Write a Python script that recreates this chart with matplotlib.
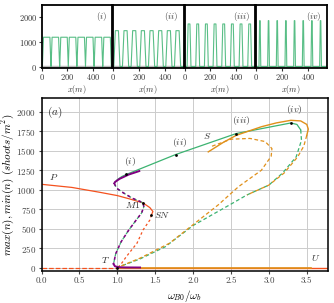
import numpy as np
import matplotlib
matplotlib.use("Agg")
from matplotlib import pyplot as plt

plt.rcParams['mathtext.fontset'] = 'cm'
plt.rcParams['font.family'] = 'serif'
plt.rcParams['font.serif'] = ['cmr10', 'DejaVu Serif']
plt.rcParams['axes.formatter.use_mathtext'] = True

RED = '#f4511e'
GREEN = '#3cb371'
PURPLE = '#800080'
GOLD = '#e0901a'

# homogeneous branch P (stable) and its unstable continuation to T
p_x = [0.0, 0.4, 0.77, 1.0, 1.17, 1.34, 1.43, 1.47, 1.45]
p_y = [1070, 1030, 967, 925, 880, 830, 770, 720, 676]
pu_x = [1.45, 1.43, 1.34, 1.26, 1.12, 1.04, 1.0]
pu_y = [676, 611, 483, 313, 141, 30, 0]

# purple branch
pm_x = [1.29, 1.15, 1.03, 0.97, 0.96]
pm_y = [1240, 1195, 1140, 1100, 1082]
pmu_x = [0.96, 0.99, 1.08, 1.2, 1.3, 1.34, 1.35, 1.32, 1.25, 1.15, 1.05, 0.98, 0.95]
pmu_y = [1082, 1020, 960, 890, 850, 830, 780, 700, 611, 480, 330, 180, 45]
pmin_x = [0.95, 0.97, 1.02, 1.1, 1.3]
pmin_y = [45, 15, 4, 1, 0]

# green branch (S)
gs_x = [0.96, 1.0, 1.06, 1.12, 1.77, 2.57, 3.29, 3.37, 3.42]
gs_y = [1082, 1130, 1170, 1197, 1453, 1723, 1859, 1840, 1770]
gu_x = [3.42, 3.43, 3.36, 3.18, 3.0, 2.71, 2.48, 2.0, 1.63, 1.3, 1.0]
gu_y = [1770, 1636, 1423, 1214, 1060, 933, 804, 540, 265, 110, 0]

# gold branch
os_x = [2.2, 2.4, 2.57, 2.9, 3.1, 3.29, 3.42, 3.5, 3.52, 3.5]
os_y = [1487, 1610, 1700, 1810, 1860, 1893, 1885, 1840, 1780, 1700]
ou_x = [3.5, 3.46, 3.38, 3.2, 3.0, 2.71]
ou_y = [1700, 1560, 1423, 1214, 1060, 933]
oi_x = [2.25, 2.5, 2.75, 2.95, 3.04, 3.03, 2.9, 2.6, 2.33, 1.69, 1.3, 1.0]
oi_y = [1560, 1650, 1660, 1620, 1530, 1430, 1250, 1040, 804, 313, 120, 0]

# top profiles: peak centres (m), max density, half widths (top, base)
prof_centres = [
    [40, 107, 174, 240, 307, 373, 440, 507],
    [30, 97, 164, 231, 298, 365, 432, 499],
    [35, 102, 169, 236, 303, 370, 437, 504],
    [30, 97, 164, 231, 298, 365, 432, 499],
]
prof_max = [1190, 1457, 1729, 1862]
prof_half = [(25, 33), (12, 24), (7, 15), (2, 7)]
prof_tags = ['$(i)$', '$(ii)$', '$(iii)$', '$(iv)$']

fig = plt.figure(figsize=(3.34, 3.03), dpi=100)

W, H = 334.0, 303.0
lefts = [41.5, 113.0, 184.5, 256.0]
for k in range(4):
    ax = fig.add_axes([lefts[k] / W, 1 - 67.5 / H, 70.5 / W, 62.5 / H])
    xs = [0.0]
    ys = [0.0]
    top, base = prof_half[k]
    for c in prof_centres[k]:
        xs += [c - base, c - top, c + top, c + base]
        ys += [0, prof_max[k], prof_max[k], 0]
    xs.append(545)
    ys.append(0)
    ax.plot(xs, ys, color=GREEN, lw=0.8, alpha=0.85)
    ax.axhline(0, color='#bbbbbb', lw=2.5, zorder=0)
    ax.set_xlim(0, 545)
    ax.set_ylim(-40, 2500)
    ax.set_xticks([0, 200, 400])
    ax.set_yticks([0, 1000, 2000])
    ax.tick_params(labelsize=6, length=2, pad=1, colors='#333333')
    if k > 0:
        ax.set_yticklabels([])
        ax.tick_params(axis='y', length=0)
    ax.set_xlabel('$x(m)$', fontsize=6, labelpad=1, color='#333333')
    ax.text(0.93, 0.92, prof_tags[k], transform=ax.transAxes, ha='right', va='top', fontsize=6.5, color='#333333')
    for s in ax.spines.values():
        s.set_linewidth(1.3)

ax = fig.add_axes([41.5 / W, 1 - 271 / H, 286.5 / W, 173 / H])
ax.grid(True, color='#cccccc', lw=0.7)
ax.set_axisbelow(True)

ax.plot([0, 1.0], [0, 0], color=RED, lw=0.9, ls='--')
ax.plot([1.0, 3.78], [0, 0], color=RED, lw=1.0)
ax.plot([1.0, 3.55], [0, 0], color=GOLD, lw=1.2)

ax.plot(p_x, p_y, color=RED, lw=0.9)
ax.plot(pu_x, pu_y, color=RED, lw=0.9, ls=(0, (2, 2)))

ax.plot(gu_x, gu_y, color=GREEN, lw=0.9, ls=(0, (3, 2)))
ax.plot(pmu_x, pmu_y, color=GREEN, lw=0.9, ls=(0, (3, 2)))
ax.plot(gs_x, gs_y, color=GREEN, lw=0.9)

ax.plot(oi_x, oi_y, color=GOLD, lw=0.9, ls=(0, (3, 2)))
ax.plot(ou_x, ou_y, color=GOLD, lw=0.9, ls=(0, (3, 2)))
ax.plot(os_x, os_y, color=GOLD, lw=1.0)

ax.plot(pm_x, pm_y, color=PURPLE, lw=1.4)
ax.plot(pmu_x, pmu_y, color=PURPLE, lw=1.1, ls=(0, (2, 2)))
ax.plot(pmin_x, pmin_y, color=PURPLE, lw=1.4)

dot_x = [1.12, 1.77, 2.57, 3.29, 1.34, 1.45, 1.0]
dot_y = [1197, 1453, 1723, 1859, 830, 676, 0]
ax.scatter(dot_x, dot_y, s=4, color='black', lw=0, zorder=5)

lab_fs = 7
ax.text(1.17, 1330, '$(i)$', fontsize=lab_fs, ha='center', color='#333333')
ax.text(1.82, 1570, '$(ii)$', fontsize=lab_fs, ha='center', color='#333333')
ax.text(2.64, 1860, '$(iii)$', fontsize=lab_fs, ha='center', color='#333333')
ax.text(3.33, 2000, '$(iv)$', fontsize=lab_fs, ha='center', color='#333333')
ax.text(2.18, 1690, '$S$', fontsize=lab_fs, ha='center', va='center', color='#333333')
ax.text(0.16, 1160, '$P$', fontsize=lab_fs, ha='center', va='center', color='#333333')
ax.text(0.84, 100, '$T$', fontsize=lab_fs, ha='center', va='center', color='#333333')
ax.text(3.62, 120, '$U$', fontsize=lab_fs, ha='center', va='center', color='#333333')
ax.text(1.48, 676, '$SN$', fontsize=lab_fs, ha='left', va='center', color='#333333')
ax.text(1.31, 800, '$M1$', fontsize=lab_fs, ha='right', va='center', color='#333333')
ax.text(0.18, 2000, '$(a)$', fontsize=8, ha='center', va='center', color='#333333')

ax.set_xlim(0, 3.78)
ax.set_ylim(-45, 2180)
ax.set_xticks([0, 0.5, 1.0, 1.5, 2.0, 2.5, 3.0, 3.5])
ax.set_xticklabels(['0.0', '0.5', '1.0', '1.5', '2.0', '2.5', '3.0', '3.5'])
ax.set_yticks(range(0, 2001, 250))
ax.tick_params(labelsize=6.5, length=2, pad=2, colors='#444444')
ax.set_xlabel(r'$\omega_{B0}/\omega_b$', fontsize=8, labelpad=2)
ax.set_ylabel(r'$max(n), min(n)\ (shoots/m^2)$', fontsize=8)
ax.yaxis.set_label_coords(-0.088, 0.5)
for s in ax.spines.values():
    s.set_linewidth(1.1)

fig.savefig('out.png', dpi=100)
